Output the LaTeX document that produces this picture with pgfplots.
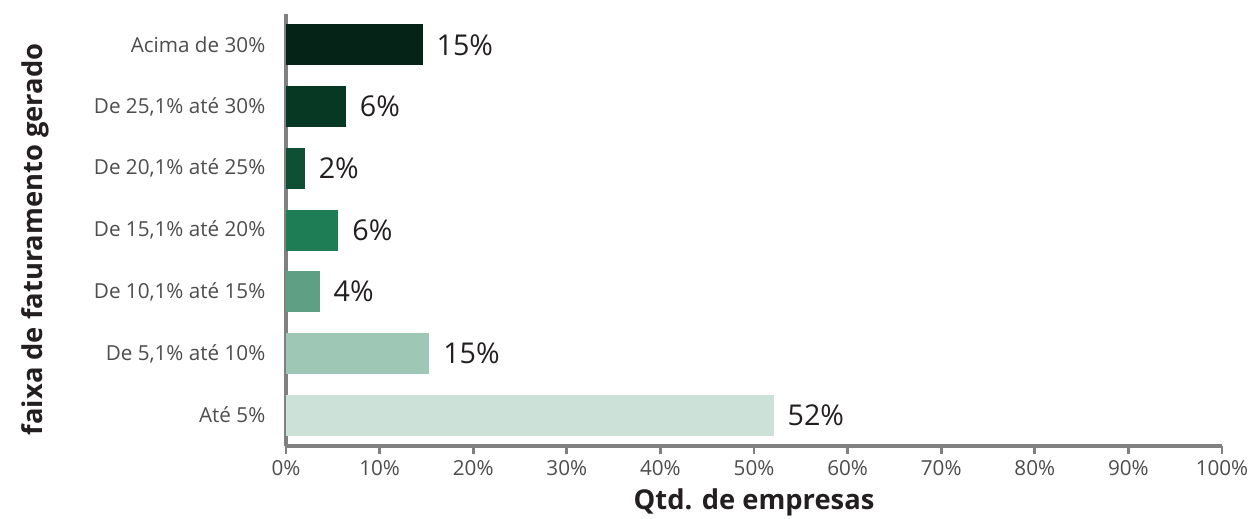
\documentclass[border=0pt]{standalone}
\usepackage{pgfplots}
\pgfplotsset{compat=1.18}
\usepackage{fontspec}
\setmainfont{Open Sans}
\definecolor{c1}{HTML}{CCE2D9}
\definecolor{c2}{HTML}{9EC8B5}
\definecolor{c3}{HTML}{5FA085}
\definecolor{c4}{HTML}{1E7D55}
\definecolor{c5}{HTML}{0F5035}
\definecolor{c6}{HTML}{073824}
\definecolor{c7}{HTML}{062318}
\definecolor{axgray}{HTML}{808080}
\definecolor{txt}{HTML}{231F20}
\definecolor{tick}{HTML}{4D4D4D}
\begin{document}
\begin{tikzpicture}
\begin{axis}[
  scale only axis,
  width=702pt, height=324pt,
  xbar, bar width=30.75pt, bar shift=0pt,
  xmin=0, xmax=100, ymin=-0.5, ymax=6.5,
  axis x line*=bottom, axis y line*=left,
  axis line style={draw=axgray, line width=2.4pt},
  xtick={0,10,...,100},
  xticklabels={0\%,10\%,20\%,30\%,40\%,50\%,60\%,70\%,80\%,90\%,100\%},
  x tick style={draw=axgray, line width=2pt},
  major tick length=6pt,
  xtick align=outside,
  x tick label style={font=\fontsize{15.5}{18}\selectfont, text=tick, yshift=-1pt},
  ytick={0,1,2,3,4,5,6},
  yticklabels={{At\'e 5\%}, {De 5,1\% at\'e 10\%}, {De 10,1\% at\'e 15\%}, {De 15,1\% at\'e 20\%}, {De 20,1\% at\'e 25\%}, {De 25,1\% at\'e 30\%}, {Acima de 30\%}},
  y tick style={draw=none},
  y tick label style={font=\fontsize{15.5}{18}\selectfont, text=tick, xshift=-6pt},
  xlabel={Qtd. de empresas},
  ylabel={faixa de faturamento gerado},
  xlabel style={font=\bfseries\fontsize{20.5}{24}\selectfont, text=txt, at={(axis description cs:0.5,0)}, anchor=center, yshift=-42pt},
  ylabel style={font=\bfseries\fontsize{20.5}{24}\selectfont, text=txt, at={(axis description cs:0,0.5)}, anchor=center, yshift=188pt, xshift=-7pt},
  point meta=explicit symbolic,
  nodes near coords,
  nodes near coords style={font=\fontsize{21.5}{26}\selectfont, text=txt, anchor=west, xshift=7pt},
  clip=false,
]
\addplot[fill=c1, draw=none] coordinates {(52.1,0) [52\%]};
\addplot[fill=c2, draw=none] coordinates {(15.3,1) [15\%]};
\addplot[fill=c3, draw=none] coordinates {(3.6,2) [4\%]};
\addplot[fill=c4, draw=none] coordinates {(5.6,3) [6\%]};
\addplot[fill=c5, draw=none] coordinates {(2.0,4) [2\%]};
\addplot[fill=c6, draw=none] coordinates {(6.4,5) [6\%]};
\addplot[fill=c7, draw=none] coordinates {(14.6,6) [15\%]};
\end{axis}
\pgfresetboundingbox
\path[use as bounding box] (current axis.south west) ++(-214.5pt,-54pt) rectangle ++(939pt,388.5pt);
\end{tikzpicture}
\end{document}
